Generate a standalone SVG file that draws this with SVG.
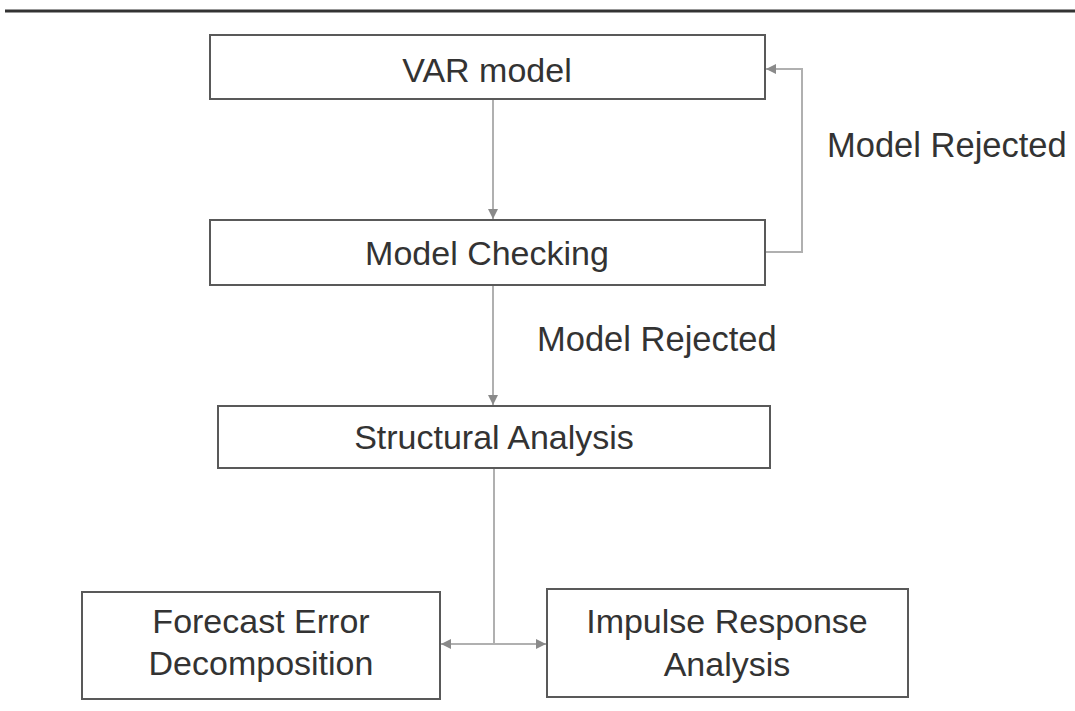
<svg xmlns="http://www.w3.org/2000/svg" width="1075" height="711" viewBox="0 0 1075 711">
<style>
.box{fill:#fff;stroke:#595959;stroke-width:2}
.lbl{font-family:"Liberation Sans",Arial,sans-serif;font-size:34px;fill:#333;text-anchor:middle}
.note{font-family:"Liberation Sans",Arial,sans-serif;font-size:34.5px;fill:#333}
.con{fill:none;stroke:#b0b0b0;stroke-width:2}
</style>
<defs>
<marker id="ah" viewBox="0 0 10 10" refX="10" refY="5" markerWidth="5" markerHeight="5" orient="auto" markerUnits="strokeWidth">
<path d="M0,0 L10,5 L0,10 z" fill="#8a8a8a"/>
</marker>
</defs>
<rect width="1075" height="711" fill="#fff"/>
<line x1="5" y1="11" x2="1075" y2="11" stroke="#333" stroke-width="3"/>
<g id="connectors">
<line class="con" x1="493" y1="99" x2="493" y2="219" marker-end="url(#ah)"/>
<polyline class="con" points="765,252 802,252 802,69 766,69" marker-end="url(#ah)"/>
<line class="con" x1="493" y1="285" x2="493" y2="405" marker-end="url(#ah)"/>
<line class="con" x1="494" y1="468" x2="494" y2="644"/>
<line class="con" x1="494" y1="644" x2="441" y2="644" marker-end="url(#ah)"/>
<line class="con" x1="494" y1="644" x2="546" y2="644" marker-end="url(#ah)"/>
</g>
<g id="var-model">
<rect class="box" x="210" y="35" width="555" height="64"/>
<text class="lbl" x="487" y="82">VAR model</text>
</g>
<g id="model-checking">
<rect class="box" x="210" y="220" width="555" height="65"/>
<text class="lbl" x="487" y="265">Model Checking</text>
</g>
<g id="structural-analysis">
<rect class="box" x="218" y="406" width="552" height="62"/>
<text class="lbl" x="494" y="449">Structural Analysis</text>
</g>
<g id="forecast-error">
<rect class="box" x="82" y="592" width="358" height="107"/>
<text class="lbl" x="261" y="633">Forecast Error</text>
<text class="lbl" x="261" y="675">Decomposition</text>
</g>
<g id="impulse-response">
<rect class="box" x="547" y="589" width="361" height="108"/>
<text class="lbl" x="727" y="633">Impulse Response</text>
<text class="lbl" x="727" y="676">Analysis</text>
</g>
<g id="labels">
<text class="note" x="827" y="157">Model Rejected</text>
<text class="note" x="537" y="351">Model Rejected</text>
</g>
</svg>
